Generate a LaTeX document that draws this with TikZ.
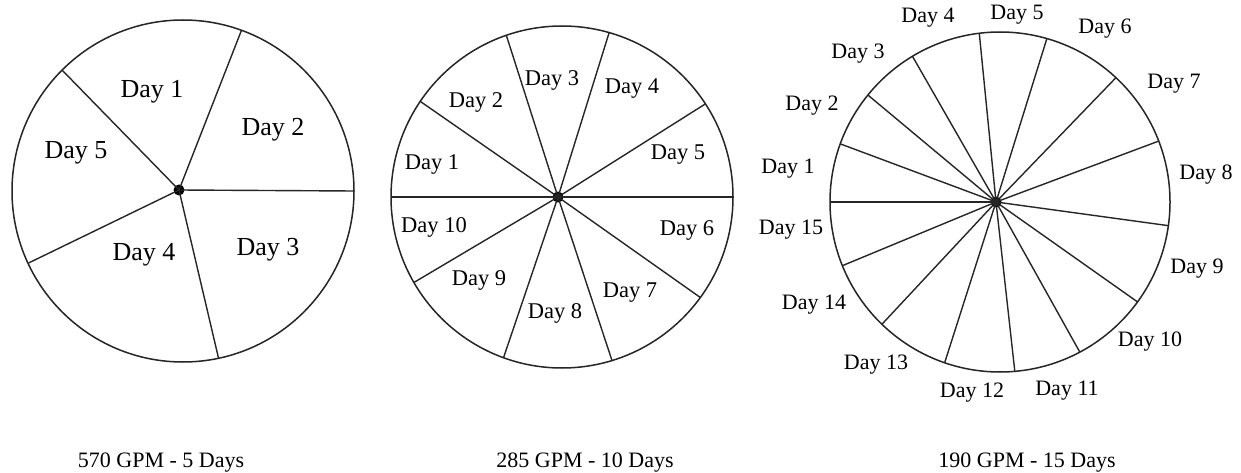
\documentclass[tikz,border=0pt]{standalone}
\usepackage{fontspec}
\setmainfont{Liberation Serif}
\tikzset{
  rim/.style={circle,draw=black!85,line width=1.5pt,inner sep=0pt,outer sep=0pt},
  spoke/.style={draw=black!85,line width=1.4pt},
  hub/.style={circle,fill=black,inner sep=0pt,minimum size=11pt},
  bigday/.style={font=\fontsize{26}{30}\selectfont},
  day/.style={font=\fontsize{22.5}{26}\selectfont},
  smallday/.style={font=\fontsize{22}{25}\selectfont},
  caption/.style={font=\fontsize{22}{25}\selectfont,anchor=base}
}
\begin{document}
\begin{tikzpicture}[x=1pt,y=1pt]
\path[use as bounding box,fill=white] (0,0) rectangle (1241,-473);
% A: 5 days
\node[rim,minimum size=342pt] (rimA) at (183,-191) {};
\node[hub] (hubA) at (179,-190) {};
\foreach \a in {0,70.8,135.7,205.5,282.4} \draw[spoke] (hubA.center)--(rimA.\a);
\foreach \x/\y/\d in {152/92/1,273/130/2,268/250/3,144/255/4,76/153/5}
  \node[bigday] (dA\d) at (\x,-\y) {Day \d};
\node[caption] (capA) at (161,-467) {570 GPM - 5 Days};
% B: 10 days
\node[rim,minimum size=342pt] (rimB) at (562,-197) {};
\node[hub] (hubB) at (558,-197) {};
\foreach \a in {0,33.2,74,109.9,146.1,180,210.5,250.2,287.7,324.5} \draw[spoke] (hubB.center)--(rimB.\a);
\foreach \x/\y/\d in {432/165/1,476/102/2,552/80/3,632/89/4,678/155/5,687/230/6,630/293/7,555/313/8,479/280/9,434/227/10}
  \node[day] (dB\d) at (\x,-\y) {Day \d};
\node[caption] (capB) at (585,-467) {285 GPM - 10 Days};
% C: 15 days
\node[rim,minimum size=340pt] (rimC) at (1000,-202) {};
\node[hub] (hubC) at (996,-202) {};
\foreach \a in {180,160.6,141.1,121.2,97.3,74.4,47,21,352.2,324.6,298.5,275.3,251.4,226.5,202.2} \draw[spoke] (hubC.center)--(rimC.\a);
\foreach \x/\y/\d in {788/169/1,812/106/2,858/54/3,928/18/4,1017/15/5,1105/29/6,1174/84/7,1206/175/8,1197/269/9,1150/342/10,1067/391/11,972/393/12,876/365/13,814/305/14,791/230/15}
  \node[smallday] (dC\d) at (\x,-\y) {Day \d};
\node[caption] (capC) at (1027,-467) {190 GPM - 15 Days};
\end{tikzpicture}
\end{document}
